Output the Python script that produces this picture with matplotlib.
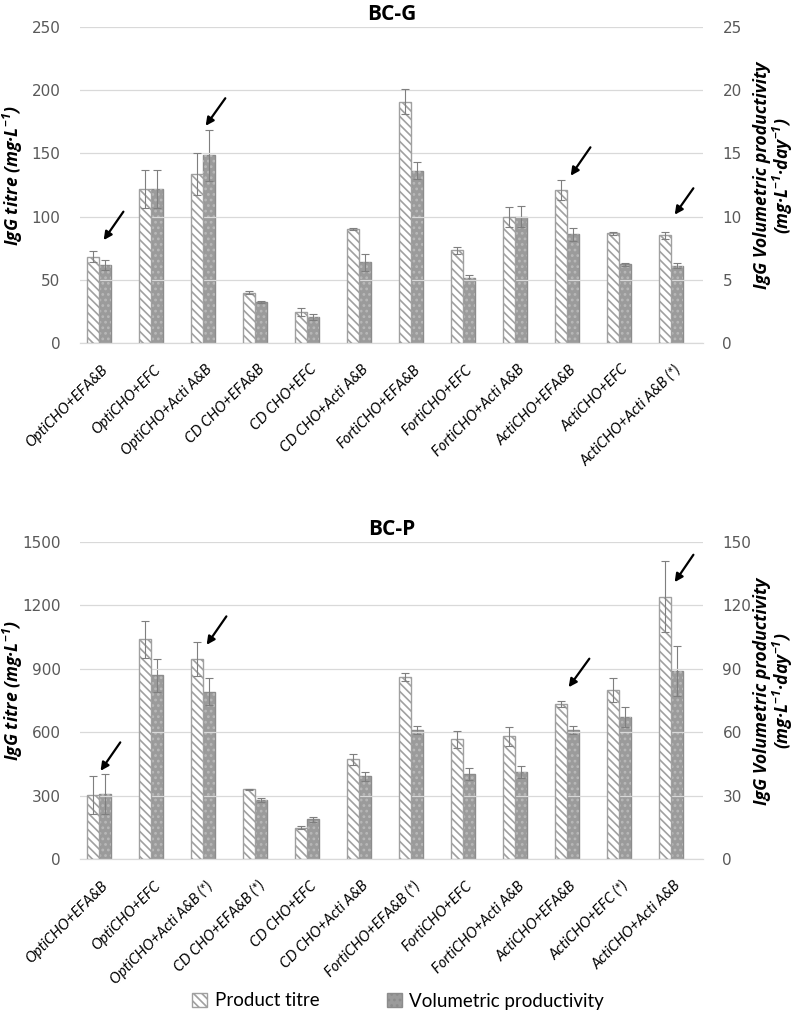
import numpy as np
import matplotlib
matplotlib.use("Agg")
import matplotlib.pyplot as plt
from matplotlib.patches import Patch

plt.rcParams['hatch.linewidth'] = 1.2
plt.rcParams['mathtext.fontset'] = 'custom'
plt.rcParams['mathtext.rm'] = 'Open Sans:italic:bold'
plt.rcParams['mathtext.it'] = 'Open Sans:italic:bold'
plt.rcParams['mathtext.default'] = 'rm'

# BC-G data
labels_g = ["OptiCHO+EFA&B", "OptiCHO+EFC", "OptiCHO+Acti A&B", "CD CHO+EFA&B",
            "CD CHO+EFC", "CD CHO+Acti A&B", "FortiCHO+EFA&B", "FortiCHO+EFC",
            "FortiCHO+Acti A&B", "ActiCHO+EFA&B", "ActiCHO+EFC", "ActiCHO+Acti A&B (*)"]
titre_g = [68.2, 121.8, 133.5, 39.9, 24.6, 90.1, 191.0, 73.2, 99.9, 120.8, 86.7, 85.1]
titre_g_err = [4.5, 15, 16.5, 1, 3, 1, 10, 2.6, 8, 8, 1, 3]
prod_g = [6.2, 12.2, 14.85, 3.25, 2.06, 6.37, 13.64, 5.18, 10.0, 8.59, 6.21, 6.1]
prod_g_err = [0.4, 1.5, 2.0, 0.1, 0.25, 0.7, 0.66, 0.18, 0.8, 0.5, 0.1, 0.2]
arrows_g = [(0.50, 105.7, 0.06, 79.6), (2.46, 195.4, 2.02, 170.0),
            (9.48, 156.6, 9.04, 130.5), (11.46, 124.2, 11.04, 99.7)]

# BC-P data
labels_p = ["OptiCHO+EFA&B", "OptiCHO+EFC", "OptiCHO+Acti A&B (*)", "CD CHO+EFA&B (*)",
            "CD CHO+EFC", "CD CHO+Acti A&B", "FortiCHO+EFA&B (*)", "FortiCHO+EFC",
            "FortiCHO+Acti A&B", "ActiCHO+EFA&B", "ActiCHO+EFC (*)", "ActiCHO+Acti A&B"]
titre_p = [304, 1039, 946, 330, 150, 472, 859, 567, 581, 733, 800, 1240]
titre_p_err = [90, 88, 79, 3, 8, 25, 19, 41, 46, 14, 55, 168]
prod_p = [30.9, 86.9, 79.2, 28.0, 18.9, 39.2, 61.1, 40.3, 41.2, 61.1, 67.2, 88.9]
prod_p_err = [9.3, 7.7, 6.3, 0.8, 1.2, 2.0, 1.9, 2.7, 2.8, 1.9, 4.6, 12.0]
arrows_p = [(0.44, 563, 0.0, 407), (2.48, 1158, 2.04, 1002),
            (9.46, 958, 9.0, 802), (11.46, 1449, 11.04, 1298)]

grey_line = '#a0a0a0'
grey_fill = '#9b9b9b'
err_col = '#7f7f7f'
tick_col = '#595959'
w = 0.236


def draw_panel(ax, title, labels, titre, titre_err, prod, prod_err, ymax, ystep, arrows):
    x = np.arange(len(labels))
    ax2 = ax.twinx()
    ax.set_zorder(ax2.get_zorder() + 1)
    ax.patch.set_visible(False)

    ax.bar(x - w / 2, titre, w, color='white', edgecolor=grey_line, hatch='\\\\\\\\',
           linewidth=1.0, zorder=3)
    ax.errorbar(x - w / 2, titre, yerr=titre_err, fmt='none', ecolor=err_col,
                elinewidth=0.8, capsize=3, capthick=0.8, zorder=4)

    ax2.bar(x + w / 2, prod, w, color=grey_fill, edgecolor='#8c8c8c', linewidth=1.0, zorder=3)
    ax2.bar(x + w / 2, prod, w, color='none', edgecolor='#b8b8b8', hatch='...',
            linewidth=0, zorder=3)
    ax2.errorbar(x + w / 2, prod, yerr=prod_err, fmt='none', ecolor=err_col,
                 elinewidth=0.8, capsize=3, capthick=0.8, zorder=4)

    ax.set_xlim(-0.365, 11.615)
    ax.set_ylim(0, ymax)
    ax2.set_ylim(0, ymax / 10)
    ax.set_yticks(np.arange(0, ymax + 1, ystep))
    ax2.set_yticks(np.arange(0, ymax / 10 + 0.01, ystep / 10))
    ax.grid(axis='y', color='#d9d9d9', linewidth=0.9, zorder=0)
    ax.set_axisbelow(True)

    for a in (ax, ax2):
        for s in ['top', 'left', 'right']:
            a.spines[s].set_visible(False)
        a.spines['bottom'].set_color('#d9d9d9')
        a.tick_params(axis='y', length=0, labelsize=11, labelcolor=tick_col)
    ax.tick_params(axis='y', pad=14)
    ax2.tick_params(axis='y', pad=14)
    ax2.yaxis.set_major_formatter(matplotlib.ticker.FormatStrFormatter('%d'))

    ax.set_xticks(x + 0.04)
    ax.set_xticklabels(labels, rotation=45, ha='right', rotation_mode='anchor',
                       fontsize=10.5, fontstyle='italic', family='Lato', color='black')
    ax.tick_params(axis='x', length=0, pad=14)
    ax2.tick_params(axis='x', length=0)

    ax.set_title(title, fontsize=15, fontweight='bold', family='Open Sans', pad=5)
    ax.set_ylabel(r'IgG titre (mg·L$^{-1}$)', fontsize=12.7, fontweight='bold',
                  fontstyle='italic', family='Open Sans')
    ax.yaxis.set_label_coords(-0.088, 0.53)
    ax2.set_ylabel('IgG Volumetric productivity\n' + r'(mg·L$^{-1}$·day$^{-1}$)',
                   fontsize=12.7, fontweight='bold', fontstyle='italic', family='Open Sans',
                   rotation=90, linespacing=1.0)
    ax2.yaxis.set_label_coords(1.0805, 0.53)

    for x0, y0, x1, y1 in arrows:
        ax.annotate('', xy=(x1, y1), xytext=(x0, y0),
                    arrowprops=dict(arrowstyle='-|>', color='black', lw=1.6,
                                    mutation_scale=12), zorder=6)


fig = plt.figure(figsize=(7.96, 10.10), dpi=100)
ax_top = fig.add_axes([0.1005, 0.6604, 0.7827, 0.3129])
ax_bot = fig.add_axes([0.1005, 0.1492, 0.7827, 0.3145])

draw_panel(ax_top, 'BC-G', labels_g, titre_g, titre_g_err, prod_g, prod_g_err, 250, 50, arrows_g)
draw_panel(ax_bot, 'BC-P', labels_p, titre_p, titre_p_err, prod_p, prod_p_err, 1500, 300, arrows_p)

handles = [Patch(facecolor='white', edgecolor=grey_line, hatch='\\\\\\\\'),
           Patch(facecolor=grey_fill, edgecolor='#8c8c8c', hatch='...')]
fig.legend(handles, ['Product titre', 'Volumetric productivity'], loc='center',
           bbox_to_anchor=(0.5, 1 - 1001 / 1010), ncol=2, frameon=False,
           prop={'family': 'Lato', 'size': 13.5}, handlelength=0.8, handleheight=0.8,
           handletextpad=0.4, columnspacing=3.6)

fig.savefig('out.png', dpi=100)
